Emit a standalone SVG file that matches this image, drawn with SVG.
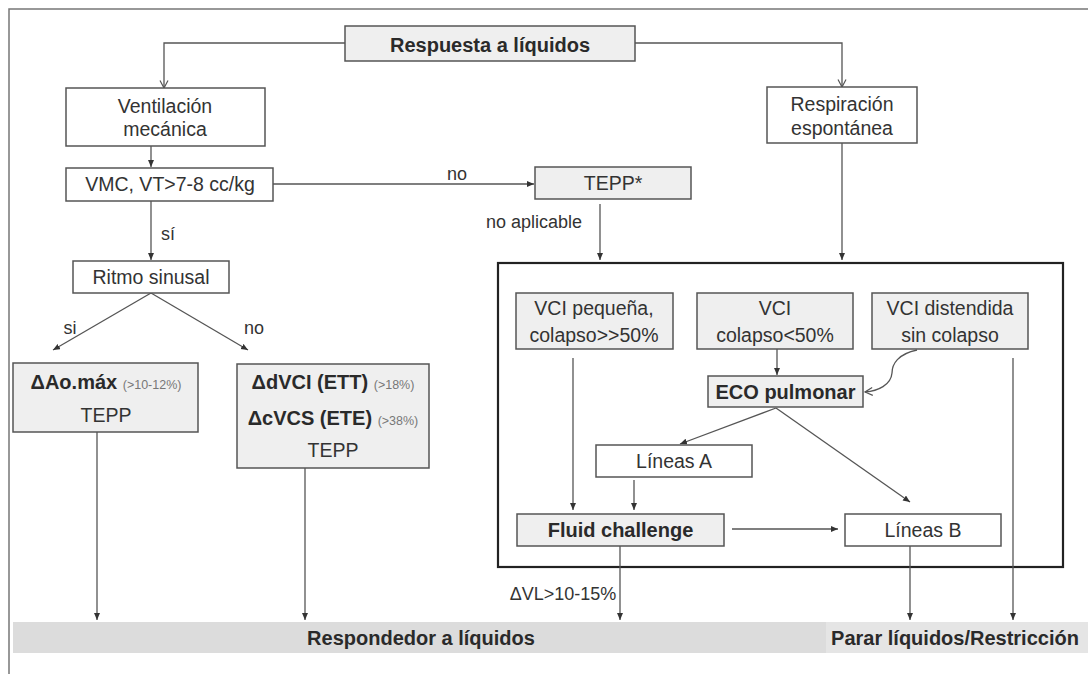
<svg xmlns="http://www.w3.org/2000/svg" width="1088" height="674" viewBox="0 0 1088 674">
<defs>
<marker id="af" markerUnits="userSpaceOnUse" markerWidth="8" markerHeight="8" refX="7" refY="3" orient="auto"><path d="M0,0 L7,3 L0,6 z" fill="#333"/></marker>
<marker id="ao" markerUnits="userSpaceOnUse" markerWidth="10" markerHeight="10" refX="8" refY="4.5" orient="auto"><path d="M0.5,0.5 L8,4.5 L0.5,8.5" fill="none" stroke="#555" stroke-width="1.2"/></marker>
</defs>
<style>
.b{stroke:#555;stroke-width:1.5}
.w{fill:#fff}
.g{fill:#efefef}
.t{font-family:"Liberation Sans",Arial,sans-serif;font-size:19.5px;fill:#333;text-anchor:middle}
.tb{font-family:"Liberation Sans",Arial,sans-serif;font-size:20px;font-weight:bold;fill:#2a2a2a;text-anchor:middle}
.s{font-size:12.5px;font-weight:normal;fill:#777}
.l{font-family:"Liberation Sans",Arial,sans-serif;font-size:18px;fill:#333}
.c{fill:none;stroke:#555;stroke-width:1.3}
</style>
<rect width="1088" height="674" fill="#fff"/>
<path d="M9,674 V9 H1088" fill="none" stroke="#777" stroke-width="1.5"/>
<g id="band">
<rect x="13" y="622" width="813" height="31" fill="#dcdcdc"/>
<rect x="826" y="622" width="262" height="31" fill="#e5e5e5"/>
</g>
<g id="container"><rect x="498" y="263" width="565" height="304" fill="none" stroke="#222" stroke-width="2.2"/></g>
<g id="connectors">
<path class="c" d="M345,43 H164 V88" marker-end="url(#ao)"/>
<path class="c" d="M635,43 H842 V87" marker-end="url(#ao)"/>
<path class="c" d="M151,146 V167" marker-end="url(#af)"/>
<path class="c" d="M273,184 H534" marker-end="url(#af)"/>
<path class="c" d="M151,201 V260" marker-end="url(#af)"/>
<path class="c" d="M151,293 L53,350" marker-end="url(#af)"/>
<path class="c" d="M151,293 L248,350" marker-end="url(#af)"/>
<path class="c" d="M600,204 V260" marker-end="url(#af)"/>
<path class="c" d="M842,143 V260" marker-end="url(#af)"/>
<path class="c" d="M777,349 V375" marker-end="url(#af)"/>
<path class="c" d="M917,350 C898,354 892,364 892,373 C891,385 878,391 865,392" marker-end="url(#ao)"/>
<path class="c" d="M776,408 L680,444" marker-end="url(#af)"/>
<path class="c" d="M776,408 L910,502" marker-end="url(#af)"/>
<path class="c" d="M573,358 V510" marker-end="url(#af)"/>
<path class="c" d="M634,480 V510" marker-end="url(#af)"/>
<path class="c" d="M732,529 H838" marker-end="url(#af)"/>
<path class="c" d="M620,546 V620" marker-end="url(#af)"/>
<path class="c" d="M910,546 V620" marker-end="url(#af)"/>
<path class="c" d="M1013,358 V620" marker-end="url(#af)"/>
<path class="c" d="M97,432 V620" marker-end="url(#af)"/>
<path class="c" d="M305,468 V620" marker-end="url(#af)"/>
<text class="l" x="457" y="180" text-anchor="middle">no</text>
<text class="l" x="168" y="240" text-anchor="middle">sí</text>
<text class="l" x="534" y="228" text-anchor="middle">no aplicable</text>
<text class="l" x="70" y="334" text-anchor="middle">si</text>
<text class="l" x="254" y="334" text-anchor="middle">no</text>
<text class="l" x="563" y="600" text-anchor="middle" font-size="16">ΔVL&gt;10-15%</text>
</g>
<g id="n_respuesta"><rect class="b g" x="345" y="26" width="290" height="35"/><text class="tb" x="490" y="51.5" font-size="21.5">Respuesta a líquidos</text></g>
<g id="n_ventilacion"><rect class="b w" x="66" y="88" width="199" height="58"/><text class="t" x="165" y="113">Ventilación</text><text class="t" x="165" y="136">mecánica</text></g>
<g id="n_respiracion"><rect class="b w" x="767" y="87" width="150" height="56"/><text class="t" x="842" y="111">Respiración</text><text class="t" x="842" y="135">espontánea</text></g>
<g id="n_vmc"><rect class="b w" x="66" y="168" width="207" height="33"/><text class="t" x="170" y="191">VMC, VT&gt;7-8 cc/kg</text></g>
<g id="n_tepp"><rect class="b g" x="535" y="167" width="156" height="32"/><text class="t" x="613" y="190">TEPP*</text></g>
<g id="n_ritmo"><rect class="b w" x="73" y="261" width="156" height="32"/><text class="t" x="151" y="284">Ritmo sinusal</text></g>
<g id="n_ao"><rect class="b g" x="13" y="363" width="185" height="69"/><text class="tb" x="106" y="389">ΔAo.máx <tspan class="s">(&gt;10-12%)</tspan></text><text class="t" x="106" y="422">TEPP</text></g>
<g id="n_dvci"><rect class="b g" x="237" y="364" width="192" height="104"/><text class="tb" x="333" y="389">ΔdVCI (ETT) <tspan class="s">(&gt;18%)</tspan></text><text class="tb" x="333" y="425">ΔcVCS (ETE) <tspan class="s">(&gt;38%)</tspan></text><text class="t" x="333" y="457">TEPP</text></g>
<g id="n_vci1"><rect class="b g" x="516" y="293" width="157" height="56"/><text class="t" x="594" y="315">VCI pequeña,</text><text class="t" x="594" y="342">colapso&gt;&gt;50%</text></g>
<g id="n_vci2"><rect class="b g" x="697" y="293" width="156" height="56"/><text class="t" x="775" y="315">VCI</text><text class="t" x="775" y="342">colapso&lt;50%</text></g>
<g id="n_vci3"><rect class="b g" x="872" y="293" width="156" height="56"/><text class="t" x="950" y="315">VCI distendida</text><text class="t" x="950" y="342">sin colapso</text></g>
<g id="n_eco"><rect class="b g" x="708" y="376" width="155" height="31"/><text class="tb" x="785.5" y="398.5">ECO pulmonar</text></g>
<g id="n_lineasA"><rect class="b w" x="596" y="445" width="156" height="32"/><text class="t" x="674" y="468">Líneas A</text></g>
<g id="n_fluid"><rect class="b g" x="517" y="514" width="207" height="32"/><text class="tb" x="620.5" y="537">Fluid challenge</text></g>
<g id="n_lineasB"><rect class="b w" x="845" y="514" width="156" height="32"/><text class="t" x="923" y="537">Líneas B</text></g>
<g id="n_respondedor"><text class="tb" x="421" y="645" font-size="19">Respondedor a líquidos</text></g>
<g id="n_parar"><text class="tb" x="955" y="645" font-size="19">Parar líquidos/Restricción</text></g>
</svg>
